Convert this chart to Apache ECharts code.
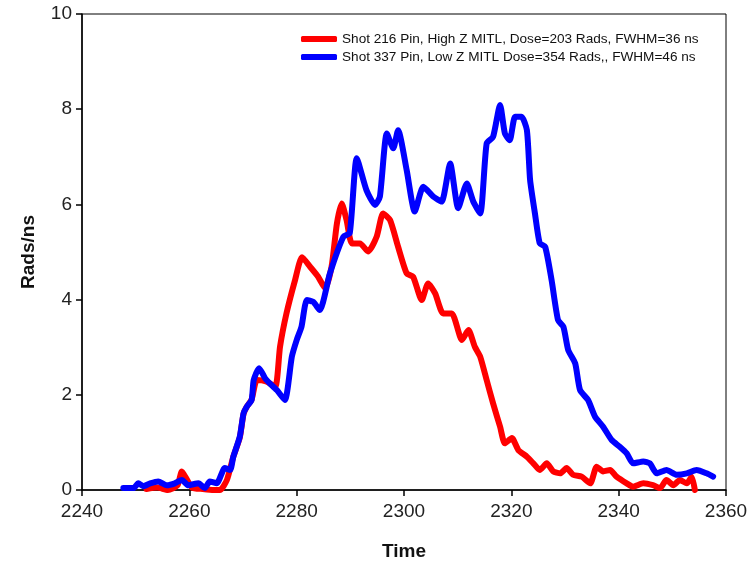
<!DOCTYPE html>
<html>
<head>
<meta charset="utf-8">
<script src="https://cdn.jsdelivr.net/npm/echarts@6/dist/echarts.min.js"></script>
<style>
  html, body { margin: 0; padding: 0; background: #fff; }
  #chart { width: 752px; height: 571px; }
</style>
</head>
<body>
<div id="chart"></div>
<script>
// time axis ticks
const xTicks = [2240, 2260, 2280, 2300, 2320, 2340, 2360];
const yTicks = [0, 2, 4, 6, 8, 10];

const redName = 'Shot 216 Pin, High Z MITL, Dose=203 Rads, FWHM=36 ns';
const blueName = 'Shot 337 Pin, Low Z MITL Dose=354 Rads,, FWHM=46 ns';

// shot 216 (red)
const redTime = [2252, 2254, 2256, 2257.8, 2258.6, 2259.4, 2260.5, 2262.5, 2264.5, 2265.7,
  2267, 2268.2, 2269.4, 2270.1, 2270.7, 2271.6, 2272.6, 2274.3, 2276, 2276.9,
  2278.1, 2279.7, 2281, 2282.5, 2284, 2285.3, 2286.5, 2287.5, 2288.4, 2289.3,
  2290.3, 2291.8, 2293.3, 2294.9, 2296.1, 2297.4, 2298.9, 2300.5, 2301.7, 2303.3,
  2304.5, 2305.8, 2307.3, 2308.9, 2310.8, 2312, 2313.2, 2314.2, 2315.4, 2316.6,
  2317.9, 2318.8, 2320.1, 2321.3, 2322.9, 2324.1, 2325.3, 2326.6, 2327.8, 2329.1,
  2330.3, 2331.5, 2333.1, 2334.7, 2335.9, 2337.1, 2338.4, 2339.6, 2341.5, 2342.7,
  2344.6, 2346.4, 2347.7, 2348.9, 2350.2, 2351.4, 2352.7, 2353.6, 2354.2];
const redRads = [0.02, 0.05, 0.0, 0.1, 0.39, 0.25, 0.05, 0.02, 0.0, 0.0,
  0.21, 0.7, 1.1, 1.6, 1.75, 1.9, 2.31, 2.28, 2.17, 3.01,
  3.71, 4.41, 4.89, 4.69, 4.48, 4.24, 4.69, 5.60, 6.02, 5.67,
  5.18, 5.18, 5.01, 5.32, 5.81, 5.67, 5.11, 4.55, 4.48, 3.99,
  4.34, 4.13, 3.71, 3.71, 3.15, 3.36, 3.01, 2.8, 2.31, 1.82,
  1.33, 0.98, 1.09, 0.84, 0.70, 0.56, 0.42, 0.56, 0.39, 0.35,
  0.46, 0.32, 0.28, 0.14, 0.49, 0.39, 0.42, 0.28, 0.14, 0.07,
  0.14, 0.1, 0.04, 0.21, 0.1, 0.21, 0.14, 0.28, 0.0];

// shot 337 (blue)
const blueTime = [2247.7, 2249.6, 2250.5, 2251.4, 2252.7, 2254.2, 2255.8, 2257.3, 2258.6, 2259.8,
  2261.7, 2262.9, 2263.8, 2265.1, 2266.6, 2267.6, 2268.2, 2269.4, 2270.1, 2270.7,
  2271.6, 2272.0, 2273.0, 2274.1, 2275.0, 2276.3, 2277.8, 2279.1, 2280.0, 2280.9,
  2281.9, 2283.1, 2284.3, 2286.2, 2288.7, 2289.9, 2291.2, 2293.0, 2294.6, 2295.5,
  2296.8, 2298.0, 2298.9, 2300.5, 2302.0, 2303.6, 2305.5, 2307.0, 2308.6, 2310.1,
  2311.7, 2312.9, 2314.2, 2315.4, 2316.6, 2317.9, 2318.8, 2319.7, 2320.7, 2321.9,
  2322.9, 2323.5, 2324.4, 2325.3, 2326.3, 2327.5, 2328.7, 2329.7, 2330.6, 2331.9,
  2332.8, 2334.3, 2335.6, 2337.1, 2338.7, 2340.2, 2341.5, 2342.7, 2344.6, 2345.8,
  2347.1, 2348.9, 2350.8, 2352.7, 2354.5, 2356.4, 2357.6];
const blueRads = [0.04, 0.04, 0.14, 0.08, 0.14, 0.18, 0.1, 0.14, 0.21, 0.1,
  0.14, 0.04, 0.18, 0.14, 0.46, 0.42, 0.7, 1.12, 1.61, 1.75,
  1.89, 2.31, 2.56, 2.35, 2.24, 2.1, 1.89, 2.8, 3.15, 3.43,
  3.99, 3.95, 3.78, 4.55, 5.32, 5.40, 6.97, 6.30, 5.99, 6.16,
  7.49, 7.18, 7.56, 6.72, 5.85, 6.37, 6.16, 6.06, 6.86, 5.92,
  6.44, 6.06, 5.81, 7.28, 7.42, 8.09, 7.49, 7.35, 7.84, 7.84,
  7.56, 6.51, 5.81, 5.18, 5.11, 4.41, 3.57, 3.43, 2.94, 2.66,
  2.10, 1.89, 1.54, 1.33, 1.05, 0.91, 0.77, 0.56, 0.60, 0.56,
  0.35, 0.42, 0.32, 0.35, 0.42, 0.35, 0.28];

const zip = (xs, ys) => xs.map((x, i) => [x, ys[i]]);

const chart = echarts.init(document.getElementById('chart'));
const fam = 'Arial, "Liberation Sans", sans-serif';
const labelFont = { fontFamily: fam, fontSize: 19, color: '#222' };
const nameFont = { fontFamily: fam, fontSize: 19, fontWeight: 'bold', color: '#111' };

chart.setOption({
  animation: false,
  backgroundColor: '#fff',
  grid: { left: 82, right: 26, top: 14, bottom: 81, show: true, borderColor: '#000', borderWidth: 1 },
  legend: {
    orient: 'vertical',
    left: 296,
    top: 27,
    itemGap: 4,
    itemWidth: 36,
    itemHeight: 6,
    icon: 'roundRect',
    textStyle: { fontFamily: fam, fontSize: 13.6, color: '#111' },
    data: [redName, blueName]
  },
  xAxis: {
    type: 'value',
    min: xTicks[0],
    max: xTicks[xTicks.length - 1],
    interval: 20,
    name: 'Time',
    nameLocation: 'middle',
    nameGap: 52,
    nameTextStyle: nameFont,
    axisLine: { show: true, lineStyle: { color: '#000', width: 1.5 } },
    axisTick: { show: true, inside: false, length: 6, lineStyle: { color: '#000', width: 1.5 } },
    axisLabel: Object.assign({ margin: 12, formatter: v => String(v) }, labelFont),
    splitLine: { show: false }
  },
  yAxis: {
    type: 'value',
    min: yTicks[0],
    max: yTicks[yTicks.length - 1],
    interval: 2,
    name: 'Rads/ns',
    nameLocation: 'middle',
    nameGap: 44,
    nameTextStyle: nameFont,
    axisLine: { show: true, lineStyle: { color: '#000', width: 1.5 } },
    axisTick: { show: true, inside: false, length: 6, lineStyle: { color: '#000', width: 1.5 } },
    axisLabel: Object.assign({ margin: 10 }, labelFont),
    splitLine: { show: false }
  },
  series: [
    {
      name: redName,
      type: 'line',
      data: zip(redTime, redRads),
      showSymbol: false,
      smooth: 0.2,
      color: '#ff0000',
      lineStyle: { color: '#ff0000', width: 6, cap: 'round', join: 'round' }
    },
    {
      name: blueName,
      type: 'line',
      data: zip(blueTime, blueRads),
      showSymbol: false,
      smooth: 0.2,
      color: '#0000ff',
      lineStyle: { color: '#0000ff', width: 6, cap: 'round', join: 'round' }
    }
  ]
});
</script>
</body>
</html>
